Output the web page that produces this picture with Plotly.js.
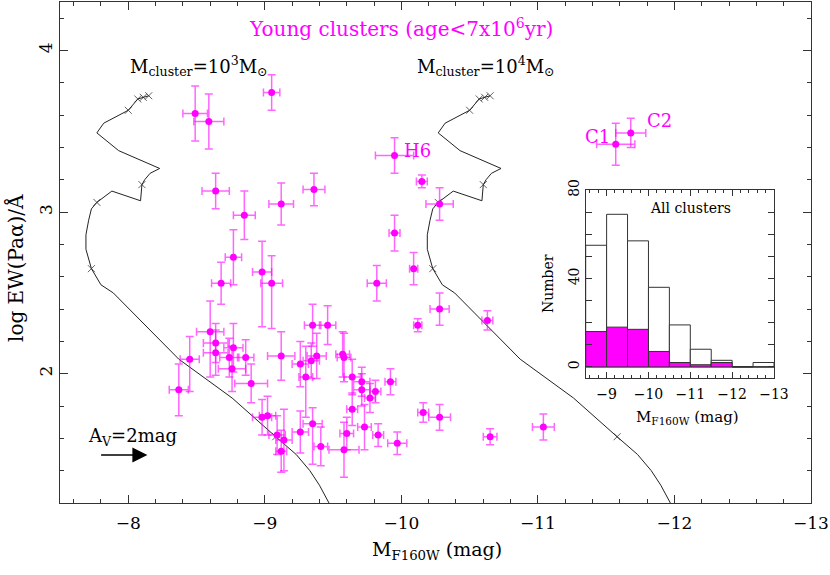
<!DOCTYPE html>
<html><head><meta charset="utf-8">
<script src="https://cdn.plot.ly/plotly-3.0.1.min.js"></script>
<style>html,body{margin:0;padding:0;background:#fff}</style>
</head><body><div id="chart" style="width:830px;height:575px"></div>
<script>
// Young clusters: M_F160W, log EW(Pa alpha), errors
const clusterMag = [-8.49,-8.59,-9.05,-8.64,-8.85,-9.12,-9.36,-8.77,-8.98,-9.05,-8.68,-9.95,-10.15,-10.28,-9.95,-9.82,-10.09,-10.28,-10.12,-10.63,-11.57,-11.68,-9.92,-9.81,-10.16,-10.28,-9.83,-9.97,-10.65,-11.04,-8.45,-8.37,-8.60,-8.64,-8.64,-8.77,-8.74,-8.86,-8.76,-8.90,-9.12,-9.26,-8.98,-9.02,-9.09,-9.14,-9.12,-9.26,-9.35,-9.41,-9.58,-9.60,-9.64,-9.64,-9.71,-9.71,-9.73,-9.77,-9.35,-9.46,-9.34,-9.38,-9.30,-9.57,-9.58];
const clusterLogEW = [3.61,3.56,3.74,3.13,2.98,3.05,3.14,2.72,2.63,2.56,2.56,3.35,3.19,3.05,2.87,2.56,2.65,2.40,2.30,2.33,3.42,3.49,1.95,1.89,1.76,1.73,1.62,1.57,1.61,1.67,2.09,1.90,2.26,2.19,2.13,2.16,2.10,2.10,2.03,1.94,2.11,2.06,1.73,1.74,1.62,1.59,1.52,1.64,1.69,1.55,1.53,1.63,1.78,1.98,1.95,1.90,1.67,1.85,2.30,2.30,2.08,2.11,1.98,2.12,2.10];
const magErr = [0.09,0.11,0.06,0.10,0.08,0.09,0.08,0.06,0.07,0.08,0.07,0.14,0.04,0.10,0.04,0.07,0.03,0.07,0.03,0.04,0.14,0.11,0.04,0.04,0.04,0.08,0.04,0.07,0.05,0.08,0.07,0.07,0.10,0.09,0.09,0.07,0.07,0.06,0.10,0.12,0.10,0.06,0.07,0.06,0.06,0.06,0.04,0.06,0.07,0.05,0.11,0.05,0.04,0.06,0.06,0.06,0.05,0.04,0.06,0.06,0.06,0.07,0.05,0.05,0.05];
const ewErrPlus = [0.17,0.17,0.11,0.11,0.15,0.13,0.10,0.17,0.19,0.17,0.13,0.11,0.04,0.10,0.11,0.11,0.10,0.10,0.04,0.06,0.13,0.09,0.08,0.07,0.06,0.08,0.07,0.07,0.05,0.08,0.14,0.16,0.19,0.12,0.14,0.15,0.12,0.11,0.14,0.12,0.15,0.14,0.11,0.12,0.12,0.19,0.13,0.13,0.10,0.12,0.17,0.10,0.10,0.11,0.09,0.10,0.14,0.09,0.13,0.12,0.11,0.14,0.19,0.14,0.15];
const ewErrMinus = [0.17,0.17,0.11,0.11,0.15,0.13,0.10,0.17,0.34,0.28,0.13,0.11,0.04,0.10,0.11,0.11,0.10,0.10,0.04,0.06,0.13,0.09,0.08,0.07,0.06,0.08,0.07,0.07,0.05,0.08,0.20,0.16,0.28,0.12,0.14,0.15,0.12,0.11,0.14,0.12,0.15,0.14,0.11,0.12,0.12,0.19,0.13,0.13,0.25,0.12,0.17,0.10,0.10,0.11,0.09,0.10,0.14,0.09,0.13,0.12,0.11,0.14,0.25,0.14,0.15];

// Model tracks
const track1e3Mag = [-8.15,-8.11,-8.07,-8.00,-7.82,-7.77,-7.93,-8.23,-8.16,-8.12,-8.10,-8.09,-7.88,-7.77,-7.73,-7.71,-7.69,-7.69,-7.73,-7.80,-7.89,-8.37,-8.76,-9.08,-9.23,-9.33,-9.40,-9.47];
const track1e4Mag = [-10.65,-10.61,-10.57,-10.50,-10.32,-10.27,-10.43,-10.73,-10.66,-10.62,-10.60,-10.59,-10.38,-10.27,-10.23,-10.21,-10.19,-10.19,-10.23,-10.30,-10.39,-10.87,-11.26,-11.58,-11.73,-11.83,-11.90,-11.97];
const trackLogEW = [3.72,3.71,3.70,3.63,3.55,3.49,3.38,3.27,3.24,3.20,3.17,3.07,3.13,3.06,3.02,2.95,2.86,2.77,2.65,2.55,2.50,2.09,1.85,1.61,1.50,1.40,1.31,1.20];
const trackMarkIdx = [0,1,2,3,10,13,18,23];

// Inset histogram
const histBinCenters = [-8.75,-9.25,-9.75,-10.25,-10.75,-11.25,-11.75,-12.25,-12.75];
const histAll = [55,69,57,36,19,8,3,0,2];
const histYoung = [16,18,17,7,2,1,2,0,0];

const F = 'DejaVu Serif';
const MAG = '#ff00ff';
const markSizes = trackLogEW.map((v,i)=> trackMarkIdx.includes(i) ? 7 : 0);

function trackTrace(mags){
  return {x:mags, y:trackLogEW, type:'scatter', mode:'lines+markers',
    line:{color:'#222', width:1}, marker:{symbol:'x-thin', size:markSizes, line:{color:'#222', width:1}, color:'#222'},
    xaxis:'x', yaxis:'y', hoverinfo:'skip'};
}

const traces = [
  trackTrace(track1e3Mag),
  trackTrace(track1e4Mag),
  {x:clusterMag, y:clusterLogEW, type:'scatter', mode:'markers',
   marker:{color:MAG, size:7},
   error_x:{type:'data', array:magErr, symmetric:true, color:'rgba(255,0,255,0.6)', thickness:1.5, width:4},
   error_y:{type:'data', array:ewErrPlus, arrayminus:ewErrMinus, symmetric:false, color:'rgba(255,0,255,0.6)', thickness:1.5, width:4},
   xaxis:'x', yaxis:'y'},
  {x:histBinCenters, y:histAll, type:'bar', width:0.5, marker:{color:'white', line:{color:'#333', width:1}}, xaxis:'x2', yaxis:'y2'},
  {x:histBinCenters, y:histYoung, type:'bar', width:0.5, marker:{color:MAG, line:{color:'#333', width:1}}, xaxis:'x2', yaxis:'y2'}
];

const axBase = {ticks:'inside', tickcolor:'#333', tickwidth:1, showline:true, linecolor:'#333', linewidth:1,
  mirror:'ticks', showgrid:false, zeroline:false};

function px2x(p){ return (p-60)/751; }
function px2y(p){ return (503-p)/501; }

const layout = {
  width:830, height:575,
  margin:{l:60, r:19, t:2, b:72},
  paper_bgcolor:'white', plot_bgcolor:'white',
  showlegend:false, barmode:'overlay',
  font:{family:F, size:16, color:'black'},
  xaxis:Object.assign({}, axBase, {range:[-7.5,-13], tick0:-8, dtick:1, ticklen:8,
    minor:{dtick:0.2, ticks:'inside', ticklen:4, tickcolor:'#333', showgrid:false},
    tickfont:{family:F, size:17}, ticklabelstandoff:5}),
  yaxis:Object.assign({}, axBase, {range:[1.2,4.3], tick0:1, dtick:1, ticklen:8,
    minor:{dtick:0.2, ticks:'inside', ticklen:4, tickcolor:'#333', showgrid:false},
    tickangle:-90, tickfont:{family:F, size:17}}),
  xaxis2:Object.assign({}, axBase, {domain:[0.700,0.9507], anchor:'y2', range:[-8.5,-13], tick0:-9, dtick:1, ticklen:6,
    minor:{dtick:0.2, ticks:'inside', ticklen:3, tickcolor:'#333', showgrid:false},
    tickfont:{family:F, size:14}, ticklabelstandoff:3}),
  yaxis2:Object.assign({}, axBase, {domain:[0.2495,0.6248], anchor:'x2', range:[-5,80], tick0:0, dtick:40, ticklen:6,
    minor:{dtick:10, ticks:'inside', ticklen:6, tickcolor:'#333', showgrid:false},
    zeroline:true, zerolinecolor:'#333', zerolinewidth:1,
    tickangle:-90, tickfont:{family:F, size:14}}),
  annotations:[
    {xref:'paper', yref:'paper', x:px2x(247), y:px2y(28), xanchor:'left', yanchor:'middle', text:'Young clusters (age&lt;7x10<sup>6</sup>yr)', showarrow:false, font:{family:F, size:20, color:MAG}},
    {xref:'paper', yref:'paper', x:px2x(128), y:px2y(66), xanchor:'left', yanchor:'middle', text:'M<sub>cluster</sub>=10<sup>3</sup>M<sub>⊙</sub>', showarrow:false, font:{family:F, size:18, color:'black'}},
    {xref:'paper', yref:'paper', x:px2x(415), y:px2y(66), xanchor:'left', yanchor:'middle', text:'M<sub>cluster</sub>=10<sup>4</sup>M<sub>⊙</sub>', showarrow:false, font:{family:F, size:18, color:'black'}},
    {xref:'x', yref:'y', x:-10.12, y:3.384, xanchor:'center', yanchor:'middle', text:'H6', showarrow:false, font:{family:F, size:18, color:MAG}},
    {xref:'x', yref:'y', x:-11.44, y:3.465, xanchor:'center', yanchor:'middle', text:'C1', showarrow:false, font:{family:F, size:18, color:MAG}},
    {xref:'x', yref:'y', x:-11.89, y:3.564, xanchor:'center', yanchor:'middle', text:'C2', showarrow:false, font:{family:F, size:18, color:MAG}},
    {xref:'paper', yref:'paper', x:px2x(86), y:px2y(437), xanchor:'left', yanchor:'middle', text:'A<sub>V</sub>=2mag', showarrow:false, font:{family:F, size:18, color:'black'}},
    {xref:'x', yref:'y', x:-8.14, y:1.497, axref:'x', ayref:'y', ax:-7.79, ay:1.497, text:'', showarrow:true, arrowhead:2, arrowsize:2, arrowwidth:1.5, arrowcolor:'black'},
    {xref:'paper', yref:'paper', x:px2x(648), y:px2y(208), xanchor:'left', yanchor:'middle', text:'All clusters', showarrow:false, font:{family:F, size:14, color:'black'}},
    {xref:'paper', yref:'paper', x:px2x(548), y:px2y(284), xanchor:'center', yanchor:'middle', text:'Number', textangle:-90, showarrow:false, font:{family:F, size:14, color:'black'}},
    {xref:'paper', yref:'paper', x:px2x(634), y:px2y(417), xanchor:'left', yanchor:'middle', text:'M<sub>F160W</sub> (mag)', showarrow:false, font:{family:F, size:15, color:'black'}},
    {xref:'paper', yref:'paper', x:px2x(437), y:px2y(550), xanchor:'center', yanchor:'middle', text:'M<sub>F160W</sub> (mag)', showarrow:false, font:{family:F, size:19, color:'black'}},
    {xref:'paper', yref:'paper', x:px2x(15), y:px2y(268), xanchor:'center', yanchor:'middle', text:'log EW(Paα)/Å', textangle:-90, showarrow:false, font:{family:F, size:20, color:'black'}}
  ]
};

Plotly.newPlot('chart', traces, layout, {staticPlot:true, displayModeBar:false});
</script>
</body></html>
